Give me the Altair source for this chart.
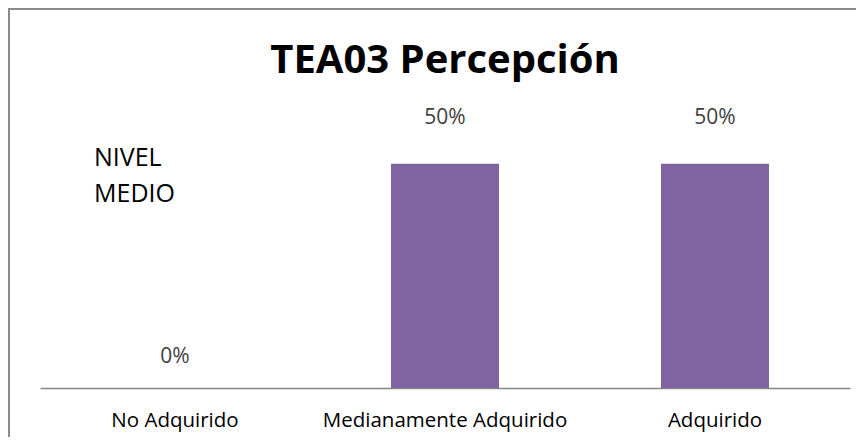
import altair as alt
import pandas as pd

categories = ["No Adquirido", "Medianamente Adquirido", "Adquirido"]
values = [0.0, 0.5, 0.5]
labels = ["0%", "50%", "50%"]
title_text = "TEA03 Percepción"
note_lines = ["NIVEL", "MEDIO"]

df = pd.DataFrame({"cat": categories, "value": values, "label": labels})

FONT = "Open Sans"

x = alt.X("cat:N", sort=categories, title=None,
          scale=alt.Scale(paddingInner=0.6, paddingOuter=0.3),
          axis=alt.Axis(labelAngle=0, ticks=False, domainColor="#868686", domainWidth=1.5,
                        labelFont=FONT, labelFontSize=20.5, labelColor="#000000",
                        labelLimit=0, labelPadding=22, grid=False))
y = alt.Y("value:Q", title=None, scale=alt.Scale(domain=[0, 0.6]), axis=None)

base = alt.Chart(df)

bars = base.mark_bar(color="#8064A2").encode(x=x, y=y)

lab_pos = base.transform_filter("datum.value > 0").mark_text(
    font=FONT, fontSize=21, color="#404040", baseline="middle", dy=-46
).encode(x=x, y=y, text="label:N")

lab_zero = base.transform_filter("datum.value == 0").mark_text(
    font=FONT, fontSize=21, color="#404040", baseline="middle", dy=-31
).encode(x=x, y=y, text="label:N")

note = alt.Chart(pd.DataFrame({"t": [note_lines]})).mark_text(
    font=FONT, fontSize=25, color="#000000", align="left", baseline="alphabetic",
    lineHeight=36
).encode(x=alt.value(54), y=alt.value(47), text="t")

title = alt.Chart(pd.DataFrame({"t": [title_text]})).mark_text(
    font=FONT, fontSize=40, fontWeight="bold", color="#000000", align="center",
    baseline="alphabetic"
).encode(x=alt.value(405), y=alt.value(-46), text="t:N")

border = alt.Chart(pd.DataFrame({"a": [0]})).mark_rect(
    fill=None, stroke="#8a8a8a", strokeWidth=2
).encode(x=alt.value(-31), x2=alt.value(900), y=alt.value(-110), y2=alt.value(400))

chart = alt.layer(border, bars, lab_pos, lab_zero, note, title).properties(
    width=810, height=269,
    padding={"left": 32, "top": 111, "right": 6, "bottom": 49},
    autosize=alt.AutoSizeParams(type="none"),
    background="#ffffff",
).configure_view(stroke=None)

chart.save("out.html", embed_options={"renderer": "svg", "actions": False})
